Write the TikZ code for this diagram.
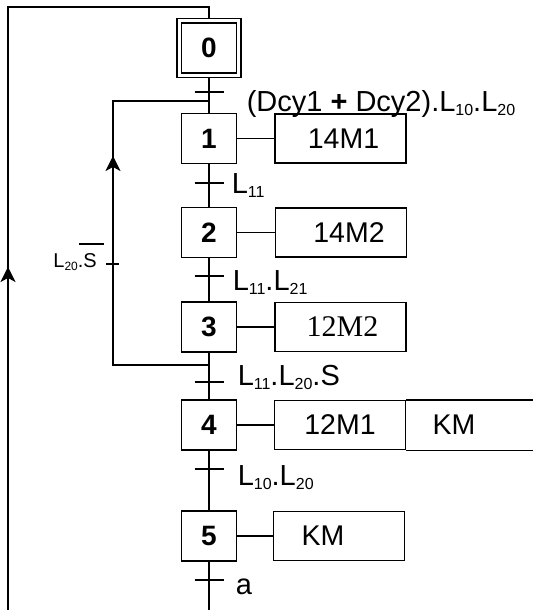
\documentclass[tikz,border=0pt]{standalone}
\usepackage{fontspec}
\setmainfont{Liberation Sans}
\newfontfamily\serifface{Liberation Serif}
\usetikzlibrary{arrows.meta,fit}
\newcommand\lsub[1]{\raisebox{-4pt}{\fontsize{16}{16}\selectfont #1}}
\newcommand\ssub[1]{\raisebox{-3pt}{\fontsize{12}{12}\selectfont #1}}
\begin{document}
\begin{tikzpicture}[x=1pt,y=-1pt,line width=1.5pt,
  stepbox/.style={draw,minimum width=55pt,minimum height=50pt,inner sep=0pt,
    font=\fontsize{28}{28}\selectfont\bfseries},
  actbox/.style={draw,minimum width=131pt,minimum height=49pt,inner sep=0pt,
    font=\fontsize{28.5}{28.5}\selectfont},
  lab/.style={anchor=base west,inner sep=0pt,font=\fontsize{29}{29}\selectfont},
  arr/.style={-{Stealth[length=15pt,width=15pt,inset=4pt]}},
  tick/.style={line width=1.5pt}
]
\useasboundingbox (0,0) rectangle (533,610);
% steps
\node[stepbox] (s0) at (209,48) {0};
\node[draw,fit=(s0),inner sep=3.7pt] (s0o) {};
\node[stepbox] (s1) at (209,138.5) {1};
\node[stepbox] (s2) at (209,232.5) {2};
\node[stepbox] (s3) at (209,327) {3};
\node[stepbox] (s4) at (209,425) {4};
\node[stepbox] (s5) at (209,536) {5};
% actions
\node[actbox] (a1) at (340.5,138.5) {\kern6pt14M1};
\node[actbox] (a2) at (341,232.5) {\kern16pt14M2};
\node[actbox,font=\fontsize{30}{30}\selectfont\serifface] (a3) at (340.5,327) {\kern4pt12M2};
\node[actbox] (a4) at (340,425) {12M1};
\node[inner sep=0pt,font=\fontsize{28.5}{28.5}\selectfont] (k4) at (454,425) {KM};
\node[actbox] (a5) at (339,536) {KM\kern32pt};
\coordinate (rgt) at (533,0);
\draw (a4.north east) -- (a4.north east -| rgt);
\draw (a4.south east) -- (a4.south east -| rgt);
% links step-action
\foreach \i in {1,...,5} \draw (s\i.east) -- (s\i.east -| a\i.west);
% main line
\coordinate (bot) at (209,610);
\draw (s0o.south) -- (s1.north);
\draw (s1.south) -- (s2.north);
\draw (s2.south) -- (s3.north);
\draw (s3.south) -- (s4.north);
\draw (s4.south) -- (s5.north);
\draw (s5.south) -- (bot);
% transitions
\foreach \n/\y in {t0/92,t1/183,t2/276,t3/382,t4/469,t5/580}
  \coordinate (\n) at (209,\y);
\foreach \n in {t0,t1,t2,t3,t4,t5}
  \draw[tick] ([xshift=-14.5pt]\n) -- ([xshift=14.5pt]\n);
\node[lab] (l0) at (246,111) {(Dcy1 {\bfseries +} Dcy2).L\lsub{10}.L\lsub{20}};
\node[lab] (l1) at (231,193) {L\lsub{11}};
\node[lab] (l2) at (232,290) {L\lsub{11}.L\lsub{21}};
\node[lab] (l3) at (237,385) {L\lsub{11}.L\lsub{20}.S};
\node[lab] (l4) at (237,485) {L\lsub{10}.L\lsub{20}};
\node[lab] (l5) at (235,594) {a};
% loop back 3 -> 1
\coordinate (lpA) at (209,365);
\coordinate (lpB) at (113,365);
\coordinate (lpC) at (113,101);
\coordinate (lpD) at (209,101);
\draw (lpA) -- (lpB) -- (lpC) -- (lpD);
\coordinate (lpT) at (113,156);
\coordinate (lpS) at (113,292);
\draw[line width=2.5pt,arr] (lpS) -- (lpT);
\coordinate (lt) at (112.5,264);
\draw[tick] ([xshift=-6.5pt]lt) -- ([xshift=6.5pt]lt);
\node[anchor=base east,inner sep=0pt,font=\fontsize{20}{20}\selectfont] (lsl) at (97.5,267)
  {L\ssub{20}.\rlap{\hspace{-4pt}\rule[22.3pt]{25pt}{1.3pt}}S};
% outer loop 5 -> 0
\coordinate (oA) at (8,610);
\coordinate (oB) at (8,7);
\coordinate (oC) at (209,7);
\draw (oA) -- (oB) -- (oC) -- (s0o.north);
\coordinate (oT) at (8,267);
\coordinate (oS) at (8,300);
\draw[arr] (oS) -- (oT);
\end{tikzpicture}
\end{document}
